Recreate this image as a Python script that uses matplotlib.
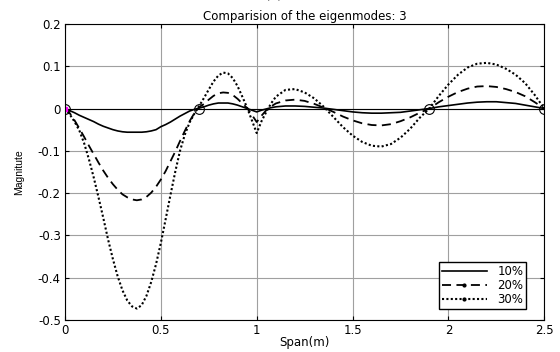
import matplotlib
matplotlib.use("Agg")
import matplotlib.pyplot as plt
from matplotlib.lines import Line2D

# span positions (m)
span = [0.0, 0.025, 0.05, 0.075, 0.1, 0.125, 0.15, 0.175, 0.2, 0.225, 0.25, 0.275,
        0.3, 0.325, 0.35, 0.375, 0.4, 0.425, 0.45, 0.475, 0.5, 0.525, 0.55, 0.575,
        0.6, 0.625, 0.65, 0.675, 0.7, 0.725, 0.75, 0.775, 0.8, 0.825, 0.85, 0.875,
        0.9, 0.925, 0.95, 0.975, 1.0, 1.025, 1.05, 1.075, 1.1, 1.15, 1.2, 1.25,
        1.3, 1.35, 1.4, 1.45, 1.5, 1.55, 1.6, 1.65, 1.7, 1.75, 1.8, 1.85, 1.9,
        1.95, 2.0, 2.05, 2.1, 2.15, 2.2, 2.25, 2.3, 2.35, 2.4, 2.45, 2.5]

# mode shape, 10% damage
mode_10 = [0.0, -0.005, -0.010, -0.016, -0.021, -0.026, -0.031, -0.037, -0.042, -0.046,
           -0.050, -0.053, -0.055, -0.056, -0.056, -0.056, -0.056, -0.055, -0.053, -0.050,
           -0.043, -0.038, -0.032, -0.025, -0.018, -0.012, -0.006, -0.002, 0.001,
           0.004, 0.008, 0.011, 0.013, 0.013, 0.013, 0.011, 0.008, 0.004, 0.0, -0.004,
           -0.008, -0.004, -0.001, 0.002, 0.004, 0.006, 0.006, 0.005, 0.003, 0.001,
           -0.002, -0.005, -0.008, -0.010, -0.011, -0.011, -0.010, -0.009, -0.006,
           -0.003, 0.0, 0.004, 0.007, 0.010, 0.013, 0.015, 0.016, 0.016, 0.014,
           0.012, 0.008, 0.004, 0.0]

# mode shape, 20% damage
mode_20 = [0.0, -0.011, -0.028, -0.047, -0.067, -0.088, -0.108, -0.128, -0.147, -0.164,
           -0.179, -0.192, -0.203, -0.210, -0.215, -0.217, -0.215, -0.209, -0.199, -0.185,
           -0.168, -0.148, -0.125, -0.102, -0.077, -0.053, -0.030, -0.011, 0.003,
           0.011, 0.021, 0.030, 0.036, 0.038, 0.037, 0.032, 0.023, 0.012, 0.001, -0.015,
           -0.032, -0.017, -0.004, 0.005, 0.012, 0.019, 0.021, 0.018, 0.011, 0.002,
           -0.008, -0.019, -0.028, -0.035, -0.039, -0.040, -0.037, -0.030, -0.021,
           -0.010, 0.0, 0.015, 0.028, 0.039, 0.047, 0.052, 0.053, 0.051, 0.046,
           0.039, 0.029, 0.015, 0.0]

# mode shape, 30% damage
mode_30 = [0.0, -0.014, -0.031, -0.052, -0.082, -0.120, -0.163, -0.210, -0.259, -0.310,
           -0.356, -0.397, -0.430, -0.454, -0.468, -0.473, -0.465, -0.443, -0.410, -0.368,
           -0.318, -0.262, -0.205, -0.150, -0.100, -0.062, -0.033, -0.012, 0.006,
           0.025, 0.045, 0.064, 0.078, 0.085, 0.083, 0.072, 0.053, 0.028, 0.002, -0.028,
           -0.058, -0.030, -0.008, 0.012, 0.028, 0.044, 0.046, 0.038, 0.024, 0.004,
           -0.020, -0.044, -0.064, -0.079, -0.088, -0.090, -0.084, -0.069, -0.048,
           -0.022, 0.0, 0.030, 0.057, 0.080, 0.097, 0.106, 0.108, 0.104, 0.094,
           0.080, 0.060, 0.032, 0.0]

node_x = [0.7, 1.9, 2.5]
node_y = [0.0, 0.0, 0.0]

labels = ["10%", "20%", "30%"]
xticks = [0, 0.5, 1, 1.5, 2, 2.5]
yticks = [0.2, 0.1, 0, -0.1, -0.2, -0.3, -0.4, -0.5]

plt.rcParams["font.family"] = "DejaVu Sans"

fig = plt.figure(figsize=(5.6, 3.52), dpi=100)
ax = fig.add_axes([0.116, 0.091, 0.856, 0.841])

ax.grid(True, color="#a0a0a0", lw=0.8, ls="-")
ax.set_axisbelow(True)
ax.axhline(0, color="k", lw=0.8, zorder=1.5)

ax.plot(span, mode_10, color="k", lw=1.2, ls="-")
ax.plot(span, mode_20, color="k", lw=1.3, ls=(0, (5, 3)))
ax.plot(span, mode_30, color="k", lw=1.5, ls=(0, (1, 1.1)))

ax.plot(node_x, node_y, "o", mfc="none", mec="k", ms=7, mew=0.8)
ax.plot([0], [0], "o", mfc="none", mec="k", ms=7, mew=0.8)
ax.plot([0], [0], "s", color="magenta", ms=3.5)

ax.set_xlim(0, 2.5)
ax.set_ylim(-0.5, 0.2)
ax.set_xticks(xticks)
ax.set_xticklabels(["0", "0.5", "1", "1.5", "2", "2.5"])
ax.set_yticks(yticks)
ax.set_yticklabels(["0.2", "0.1", "0", "-0.1", "-0.2", "-0.3", "-0.4", "-0.5"])
ax.tick_params(direction="in", length=3, labelsize=8.5, top=True, right=True, pad=3)
for s in ax.spines.values():
    s.set_linewidth(0.8)

ax.set_xlabel("Span(m)", fontsize=8.5, labelpad=-1)
ax.set_ylabel("Magnitute", fontsize=7.5, labelpad=10,
              family=["Liberation Sans Narrow", "Liberation Sans"])
ax.set_title("Comparision of the eigenmodes: 3", fontsize=8.5, pad=3)
fig.text(0.49, 1.004, "(c)", ha="center", va="baseline", fontsize=10)

handles = [Line2D([], [], color="k", lw=1.2, ls="-"),
           Line2D([], [], color="k", lw=1.3, ls=(0, (5, 3)), marker=".", ms=4),
           Line2D([], [], color="k", lw=1.5, ls=(0, (1, 1.1)), marker=".", ms=4)]
leg = ax.legend(handles, labels, loc="lower right", fontsize=8.5, fancybox=False,
                framealpha=1, edgecolor="k", handlelength=3.8, borderpad=0.25,
                labelspacing=0.1, handletextpad=0.9, borderaxespad=0,
                bbox_to_anchor=(0.9625, 0.037))
leg.get_frame().set_linewidth(1.0)

fig.savefig("out.png", dpi=100)
